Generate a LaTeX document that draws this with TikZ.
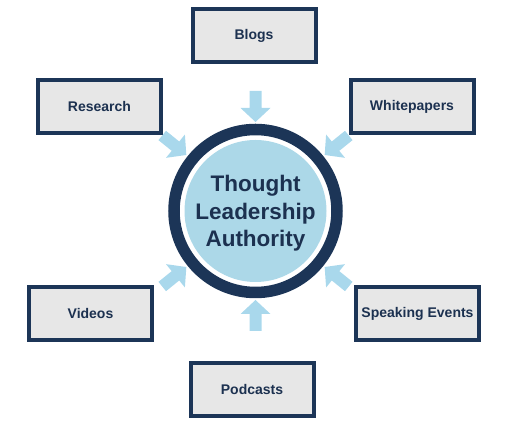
\documentclass[tikz,border=0pt]{standalone}
\usepackage{fontspec}
\setmainfont{Liberation Sans}
\definecolor{navy}{HTML}{1C3557}
\definecolor{navytext}{HTML}{1C3150}
\definecolor{boxgray}{HTML}{E7E7E7}
\definecolor{arrowblue}{HTML}{A9D8EC}
\definecolor{hubblue}{HTML}{ACD8E8}
\tikzset{
  srcbox/.style={draw=navy, line width=4pt, fill=boxgray, minimum width=123pt,
    minimum height=53pt, inner sep=0pt, text=navytext,
    font=\fontsize{14}{16}\selectfont\bfseries},
  hubtext/.style={align=center, text=navytext,
    font=\fontsize{22.5}{27.5}\selectfont\bfseries},
  blockarrow/.style={fill=arrowblue}
}
\begin{document}
\begin{tikzpicture}[x=1pt,y=1pt]
\useasboundingbox (0,0) rectangle (509,430);
% hub
\coordinate (c) at (255.5,219);
\fill[hubblue] (c) circle (71);
\draw[navy, line width=11.5pt] (c) circle (81.5);
\node[hubtext] (hub) at (255.5,216.5) {Thought\\Leadership\\Authority};
% source boxes
\node[srcbox] (blogs) at (254,394) {Blogs};
\node[srcbox] (research) at (99.5,323.5) {Research};
\node[srcbox] (white) at (412,323.5) {Whitepapers};
\node[srcbox] (videos) at (90.5,116) {Videos};
\node[srcbox] (speak) at (417.5,116) {Speaking Events};
\node[srcbox] (pod) at (252,40.5) {Podcasts};
% block arrows pointing to the hub
\foreach \ang in {90,141,39,219,321,270}{
  \begin{scope}[shift={(c)}, rotate=\ang]
    \fill[blockarrow] (120,-6) -- (103,-6) -- (103,-15) -- (89,0) -- (103,15) -- (103,6) -- (120,6) -- cycle;
  \end{scope}
}
\end{tikzpicture}
\end{document}
